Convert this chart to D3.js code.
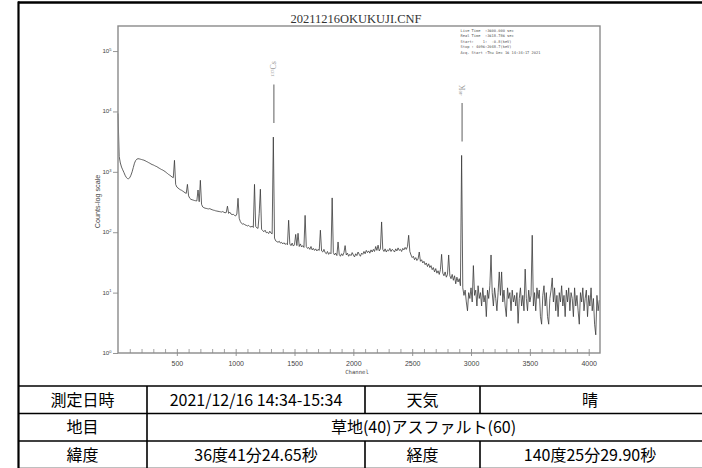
<!DOCTYPE html>
<html>
<head>
<meta charset="utf-8">
<script src="https://cdn.jsdelivr.net/npm/d3@7"></script>
<style>
  html, body { margin: 0; padding: 0; background: #fff; }
  svg { display: block; }
</style>
</head>
<body>
<svg id="chart" width="702" height="468"></svg>
<script>
// Spectrum title and acquisition info
const titleText = "20211216OKUKUJI.CNF";
const infoLines = [
  "Live Time  :3600.000 sec",
  "Real Time  :3618.786 sec",
  "Start:    1:  -0.8(keV)",
  "Stop : 4096:2048.7(keV)",
  "Acq. Start :Thu Dec 16 14:34:17 2021"
];

// Counts per channel, sampled every 10 channels starting at channel 0
const channelStart = 0;
const channelStep = 10;
const counts = [
  9300, 1800, 1400, 1200, 1080, 980, 880, 810, 775, 770,
  800, 880, 1000, 1180, 1390, 1540, 1620, 1650, 1640, 1620,
  1600, 1580, 1560, 1530, 1490, 1460, 1420, 1390, 1350, 1320,
  1300, 1270, 1240, 1220, 1180, 1150, 1120, 1090, 1070, 1040,
  1010, 975, 940, 905, 880, 850, 820, 800, 1550, 620,
  560, 540, 520, 505, 495, 480, 465, 450, 440, 620,
  400, 365, 350, 345, 340, 335, 332, 330, 500, 320,
  724, 290, 262, 255, 250, 248, 245, 243, 246, 240,
  236, 232, 230, 226, 224, 222, 220, 218, 216, 220,
  214, 210, 212, 270, 205, 215, 200, 196, 198, 190,
  186, 200, 365, 170, 150, 140, 136, 138, 132, 130,
  127, 130, 124, 122, 126, 120, 620, 125, 118, 116,
  205, 515, 112, 106, 102, 108, 98, 100, 95, 104,
  97, 94, 3760, 80, 72, 70, 68, 71, 66, 68,
  64, 67, 63, 65, 62, 158, 64, 60, 66, 59,
  62, 92, 60, 96, 58, 64, 57, 60, 56, 190,
  58, 54, 56, 52, 58, 51, 54, 50, 53, 49,
  52, 50, 108, 49, 47, 52, 46, 44, 48, 43,
  46, 44, 370, 46, 42, 45, 41, 69, 43, 40,
  44, 41, 46, 60, 42, 45, 40, 43, 41, 46,
  42, 39, 44, 41, 47, 43, 40, 45, 43, 48,
  44, 50, 46, 49, 45, 51, 47, 52, 48, 58,
  50, 61, 49, 53, 148, 52, 48, 53, 47, 51,
  49, 54, 48, 52, 50, 47, 53, 49, 55, 50,
  52, 48, 54, 51, 56, 52, 58, 89, 48, 42,
  38, 40, 35, 38, 34, 36, 47, 33, 35, 31,
  33, 29, 31, 27, 30, 26, 28, 24, 26, 22,
  25, 21, 23, 20, 24, 43, 21, 19, 22, 18,
  20, 42, 19, 17, 20, 16, 19, 14, 18, 15,
  17, 13, 1870, 12, 9, 11, 7, 5, 10, 8,
  12, 7, 28, 9, 11, 6, 13, 8, 10, 6,
  12, 7, 9, 4, 11, 8, 13, 42, 10, 6,
  12, 8, 5, 10, 22, 9, 22, 7, 11, 6,
  4, 12, 8, 10, 5, 11, 7, 9, 6, 10,
  3.1, 8, 12, 6, 9, 5, 24.5, 8, 5, 11,
  7, 9, 89, 6, 10, 5, 12, 8, 11, 4,
  3, 9, 13, 6, 10, 4, 3, 8, 11, 17.5,
  7, 12, 5, 9, 4, 10, 7, 13, 6, 9,
  4, 11, 7, 12, 5, 10, 8, 4, 12, 6,
  9, 5, 3, 10, 7, 12, 5, 8, 11, 4,
  9, 6, 12, 5, 8, 3, 2, 9, 5, 7.5
];

// Axis definitions
const channelMax = 4096;
const xMajorTicks = [500, 1000, 1500, 2000, 2500, 3000, 3500, 4000];
const xMinorStep = 100;
const yDecades = [0, 1, 2, 3, 4, 5];
const countsMax = 2.6e5;

// Identified nuclides
const nuclides = [
  { mass: "137", symbol: "Cs", channel: 1320 },
  { mass: "40", symbol: "K", channel: 2920 }
];

// Measurement details table
const colEdges = [18, 147, 365, 480, 704];
const rowEdges = [386, 413.5, 441, 468.5];
const tableRows = [
  [{ text: "測定日時", from: 0, to: 1 }, { text: "2021/12/16 14:34-15:34", from: 1, to: 2 },
   { text: "天気", from: 2, to: 3 }, { text: "晴", from: 3, to: 4 }],
  [{ text: "地目", from: 0, to: 1 }, { text: "草地(40)アスファルト(60)", from: 1, to: 4 }],
  [{ text: "緯度", from: 0, to: 1 }, { text: "36度41分24.65秒", from: 1, to: 2 },
   { text: "経度", from: 2, to: 3 }, { text: "140度25分29.90秒", from: 3, to: 4 }]
];

const svg = d3.select("#chart");
const plot = { left: 118, right: 600, top: 26, bottom: 353 };

const x = d3.scaleLinear().domain([0, channelMax]).range([plot.left, plot.right]);
const y = d3.scaleLog().domain([1, countsMax]).range([plot.bottom, plot.top]);

const spectrum = counts.map((v, i) => ({ ch: channelStart + i * channelStep, v }));

// Outer frame
svg.append("line").attr("x1", 18).attr("x2", 702).attr("y1", 2.5).attr("y2", 2.5)
  .attr("stroke", "#000").attr("stroke-width", 2.5);
svg.append("line").attr("x1", 18.5).attr("x2", 18.5).attr("y1", 1.5).attr("y2", 468)
  .attr("stroke", "#000").attr("stroke-width", 2.2);

// Title
svg.append("text").attr("x", 356).attr("y", 23)
  .attr("text-anchor", "middle")
  .attr("font-family", "'Liberation Serif', 'Times New Roman', serif")
  .attr("font-size", 12.5).attr("fill", "#333")
  .text(titleText);

// Spectrum line
const line = d3.line().x(d => x(d.ch)).y(d => y(Math.max(d.v, 1)));
svg.append("path").datum(spectrum)
  .attr("d", line)
  .attr("fill", "none").attr("stroke", "#3a3a3a").attr("stroke-width", 0.8)
  .attr("stroke-linejoin", "round");

// Plot box
svg.append("rect").attr("x", plot.left).attr("y", plot.top)
  .attr("width", plot.right - plot.left).attr("height", plot.bottom - plot.top)
  .attr("fill", "none").attr("stroke", "#8a8a8a").attr("stroke-width", 1.4);

// X axis: minor ticks every 100 channels, major ticks with labels
const xMinor = d3.range(xMinorStep, channelMax, xMinorStep).filter(c => c % 500 !== 0);
const xAxisMinor = d3.axisBottom(x).tickValues(xMinor).tickSize(-4).tickFormat("");
const xAxisMajor = d3.axisBottom(x).tickValues(xMajorTicks).tickSizeInner(3).tickSizeOuter(0)
  .tickPadding(5).tickFormat(d3.format("d"));
const gxm = svg.append("g").attr("transform", `translate(0,${plot.bottom})`).call(xAxisMinor);
gxm.select(".domain").remove();
gxm.selectAll("line").attr("stroke", "#8a8a8a").attr("stroke-width", 0.8);
const gx = svg.append("g").attr("transform", `translate(0,${plot.bottom})`).call(xAxisMajor);
gx.select(".domain").remove();
gx.selectAll("line").attr("stroke", "#8a8a8a").attr("stroke-width", 0.9).attr("y1", -4);
gx.selectAll("text")
  .attr("font-family", "'Liberation Sans Narrow', 'Liberation Sans', sans-serif")
  .attr("font-size", 7).attr("fill", "#444");

svg.append("text").attr("x", 357).attr("y", 374)
  .attr("text-anchor", "middle")
  .attr("font-family", "'DejaVu Sans Mono', monospace")
  .attr("font-size", 5.6).attr("fill", "#444")
  .text("Channel");

// Y axis: decades with superscript labels
const gy = svg.append("g").attr("transform", `translate(${plot.left},0)`)
  .call(d3.axisLeft(y).tickValues(yDecades.map(e => Math.pow(10, e))).tickSize(5).tickFormat(""));
gy.select(".domain").remove();
gy.selectAll("line").attr("stroke", "#8a8a8a").attr("stroke-width", 0.9);
const yLab = svg.append("g").selectAll("text").data(yDecades).join("text")
  .attr("x", 111.5).attr("y", e => y(Math.pow(10, e)) + 2)
  .attr("text-anchor", "end")
  .attr("font-family", "'Liberation Sans Narrow', 'Liberation Sans', sans-serif")
  .attr("font-size", 6.2).attr("fill", "#444");
yLab.append("tspan").text("10");
yLab.append("tspan").attr("dy", -2.2).attr("font-size", 4).text(e => e);

svg.append("text")
  .attr("transform", `translate(99.5,${(plot.top + plot.bottom) / 2 + 12}) rotate(-90)`)
  .attr("text-anchor", "middle")
  .attr("font-family", "'Liberation Sans Narrow', 'Liberation Sans', sans-serif")
  .attr("font-size", 7.2).attr("fill", "#444")
  .text("Counts-log scale");

// Acquisition info block
svg.append("g").selectAll("text").data(infoLines).join("text")
  .attr("x", 460.5).attr("y", (d, i) => 31.5 + i * 5.65)
  .attr("font-family", "'DejaVu Sans Mono', monospace")
  .attr("font-size", 3.7).attr("fill", "#555")
  .attr("xml:space", "preserve")
  .style("white-space", "pre")
  .text(d => d);

// Nuclide markers above their peaks
const peakCount = c => {
  const i = Math.round((c - channelStart) / channelStep);
  return counts[i];
};
const mk = svg.append("g").selectAll("g").data(nuclides).join("g");
mk.append("line")
  .attr("x1", d => x(d.channel) + 0.5).attr("x2", d => x(d.channel) + 0.5)
  .attr("y1", d => y(peakCount(d.channel)) - 14)
  .attr("y2", d => y(peakCount(d.channel)) - 52.5)
  .attr("stroke", "#9a9a9a").attr("stroke-width", 1.6);
const mkText = mk.append("text")
  .attr("transform", d => `translate(${x(d.channel) + 3},${y(peakCount(d.channel)) - 60}) rotate(-90)`)
  .attr("font-family", "'Liberation Serif', 'Times New Roman', serif")
  .attr("font-size", 8).attr("fill", "#9a9a9a");
mkText.append("tspan").attr("font-size", 5).attr("dy", -2.5).text(d => d.mass);
mkText.append("tspan").attr("dy", 2.5).text(d => d.symbol);

// Table
const tg = svg.append("g");
rowEdges.forEach(ry => {
  tg.append("line").attr("x1", 18).attr("x2", 704).attr("y1", ry).attr("y2", ry)
    .attr("stroke", "#000").attr("stroke-width", 1.6);
});
tableRows.forEach((row, r) => {
  row.forEach(cell => {
    if (cell.from > 0) {
      tg.append("line")
        .attr("x1", colEdges[cell.from]).attr("x2", colEdges[cell.from])
        .attr("y1", rowEdges[r]).attr("y2", rowEdges[r + 1])
        .attr("stroke", "#000").attr("stroke-width", 1.6);
    }
    tg.append("text")
      .attr("x", (colEdges[cell.from] + colEdges[cell.to]) / 2 + (cell.to === 4 ? -2 : 0))
      .attr("y", (rowEdges[r] + rowEdges[r + 1]) / 2)
      .attr("dy", "0.36em")
      .attr("text-anchor", "middle")
      .attr("font-family", "'Noto Sans CJK JP', sans-serif")
      .attr("font-size", 16).attr("fill", "#000")
      .text(cell.text);
  });
});
</script>
</body>
</html>
